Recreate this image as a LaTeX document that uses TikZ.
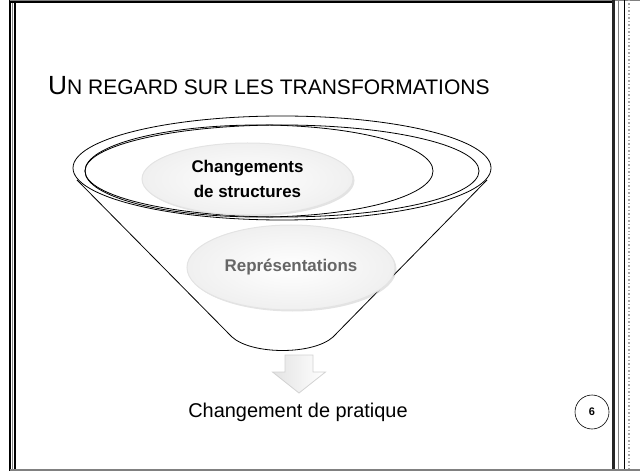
\documentclass[tikz,border=0pt]{standalone}
\usepackage{fontspec}
\setmainfont{Liberation Sans}
\usetikzlibrary{shapes.geometric,shadows}

\begin{document}
\begin{tikzpicture}[x=1bp,y=-1bp,
    blob/.style={ellipse, inner sep=0pt, draw=gray!22, line width=1bp,
      shade, inner color=white, outer color=gray!12,
      drop shadow={opacity=0.22, shadow xshift=1.5bp, shadow yshift=-1.5bp}},
    rim/.style={line width=0.8bp, draw=black}]
    \useasboundingbox (0,0) rectangle (640,471);

    % Slide frame
    \draw[line width=1.5bp] (10.2,0) -- (10.2,471);
    \draw[line width=1.5bp, gray] (12.6,0) -- (12.6,471);
    \draw[line width=2bp] (15,0) -- (15,471);
    \draw[line width=1bp, gray] (9.5,0.5) -- (640,0.5);
    \draw[line width=2bp] (9.5,2) -- (614,2);
    \draw[line width=3bp, black!85] (613.7,0) -- (613.7,471);
    \draw[line width=1bp, gray] (618.6,0) -- (618.6,471);
    \draw[line width=1bp] (624.2,0) -- (624.2,471);
    \draw[line width=1.5bp, gray!70, dotted] (629,0) -- (629,471);
    \draw[line width=1.5bp, gray] (10,470) -- (640,470);

    % Title
    \node[anchor=base west, inner sep=0pt] (title) at (48,95)
      {\fontsize{26.4}{30}\selectfont U\fontsize{21.1}{24}\selectfont N REGARD SUR LES TRANSFORMATIONS};

    % Funnel rim
    \draw[rim] (282,168) ellipse [x radius=209, y radius=52];
    \draw[rim] (282,171) ellipse [x radius=197, y radius=46];
    \draw[rim] (259,171) ellipse [x radius=174, y radius=46];

    % Funnel body
    \draw[rim] (77,180) -- (232,337)
      .. controls (252,355) and (313,355) .. (333,337) -- (487,180);

    % Stages
    \node[blob, minimum width=211bp, minimum height=72bp] (structures) at (247.5,179) {};
    \node[align=center, font=\bfseries\fontsize{17}{25}\selectfont] (structlabel)
      at (structures) {Changements\\de structures};
    \node[blob, minimum width=208bp, minimum height=85bp] (repr) at (291,267.5) {};
    \node[font=\bfseries\fontsize{17}{20}\selectfont, text=black!60] (reprlabel)
      at (repr) {Représentations};

    % Down arrow
    \draw[draw=gray!35, line width=0.8bp, left color=gray!22, right color=white]
      (285,355) -- (313,355) -- (313,372) -- (325.5,372) -- (299,393)
      -- (272.5,372) -- (285,372) -- cycle;

    % Result
    \node[font=\fontsize{20}{24}\selectfont] (practice) at (298,412) {Changement de pratique};

    % Slide number
    \node[circle, draw, line width=0.6bp, minimum size=34bp, inner sep=0pt,
      font=\bfseries\fontsize{11}{13}\selectfont] (pagenum) at (592,412) {6};
\end{tikzpicture}
\end{document}
